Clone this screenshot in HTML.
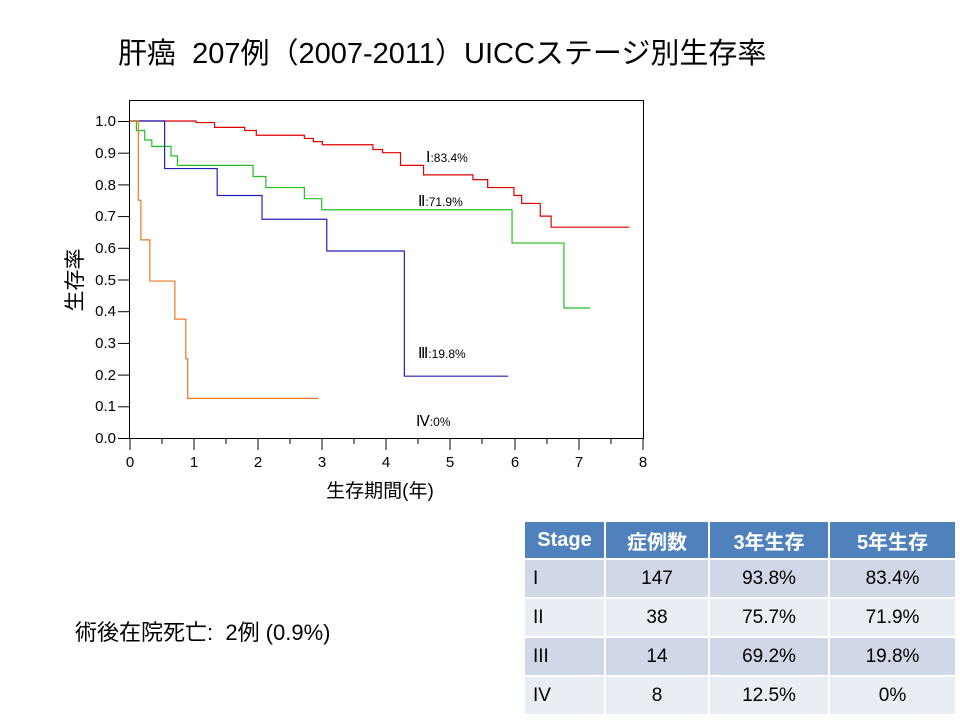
<!DOCTYPE html>
<html><head><meta charset="utf-8"><style>
body{margin:0;width:960px;height:720px;background:#fff;position:relative;overflow:hidden;font-family:"Liberation Sans","Noto Sans CJK JP",sans-serif}
.t{position:absolute;white-space:nowrap}
table{position:absolute;left:523px;top:520px;border-collapse:collapse;font-size:19px;table-layout:fixed;width:432px}
td{border:2px solid #fff;height:37px;text-align:center;padding:0;color:#000}
th{border:2px solid #fff;height:36px;background:#4f81bd;color:#fff;font-size:20px;font-weight:bold;padding:0}
tr.a td{background:#d0d8e8} tr.b td{background:#e9edf4}
td.l{text-align:left;padding-left:8px}
</style></head><body>
<div class="t" style="left:118px;top:30px;font-size:29px">肝癌&nbsp;&nbsp;207例（2007-2011）UICCステージ別生存率</div>
<svg width="960" height="720" style="position:absolute;left:0;top:0" font-family="Liberation Sans, Noto Sans CJK JP, sans-serif">
<rect x="129.5" y="100.5" width="514" height="338" fill="none" stroke="#000" stroke-width="1"/>
<g stroke="#000" stroke-width="1">
<line x1="118" y1="438.5" x2="130" y2="438.5"/><line x1="118" y1="406.8" x2="130" y2="406.8"/><line x1="118" y1="375.1" x2="130" y2="375.1"/><line x1="118" y1="343.4" x2="130" y2="343.4"/><line x1="118" y1="311.7" x2="130" y2="311.7"/><line x1="118" y1="280" x2="130" y2="280"/><line x1="118" y1="248.3" x2="130" y2="248.3"/><line x1="118" y1="216.6" x2="130" y2="216.6"/><line x1="118" y1="184.9" x2="130" y2="184.9"/><line x1="118" y1="153.2" x2="130" y2="153.2"/><line x1="118" y1="121.5" x2="130" y2="121.5"/>
<line x1="130" y1="438" x2="130" y2="450"/><line x1="194" y1="438" x2="194" y2="450"/><line x1="258" y1="438" x2="258" y2="450"/><line x1="322" y1="438" x2="322" y2="450"/><line x1="386" y1="438" x2="386" y2="450"/><line x1="450" y1="438" x2="450" y2="450"/><line x1="515" y1="438" x2="515" y2="450"/><line x1="579" y1="438" x2="579" y2="450"/><line x1="643" y1="438" x2="643" y2="450"/>
<line x1="162" y1="438" x2="162" y2="444"/><line x1="226" y1="438" x2="226" y2="444"/><line x1="290" y1="438" x2="290" y2="444"/><line x1="354" y1="438" x2="354" y2="444"/><line x1="418" y1="438" x2="418" y2="444"/><line x1="482" y1="438" x2="482" y2="444"/><line x1="547" y1="438" x2="547" y2="444"/><line x1="611" y1="438" x2="611" y2="444"/>
</g>
<g font-size="15" text-anchor="end">
<text x="116" y="443">0.0</text><text x="116" y="411">0.1</text><text x="116" y="380">0.2</text><text x="116" y="348">0.3</text><text x="116" y="316">0.4</text><text x="116" y="285">0.5</text><text x="116" y="253">0.6</text><text x="116" y="221">0.7</text><text x="116" y="190">0.8</text><text x="116" y="158">0.9</text><text x="116" y="126">1.0</text>
</g>
<g font-size="15" text-anchor="middle">
<text x="130" y="467">0</text><text x="194" y="467">1</text><text x="258" y="467">2</text><text x="322" y="467">3</text><text x="386" y="467">4</text><text x="450" y="467">5</text><text x="515" y="467">6</text><text x="579" y="467">7</text><text x="643" y="467">8</text>
</g>
<text x="380" y="497" font-size="19" text-anchor="middle">生存期間(年)</text>
<text transform="translate(82,280) rotate(-90)" font-size="21" text-anchor="middle">生存率</text>
<g fill="none" stroke-width="1.2" transform="translate(130,438) scale(64.1,-317)">
<path vector-effect="non-scaling-stroke" stroke="#e00000" d="M0,1H1.03V0.995H1.32V0.98H1.79V0.97H1.97V0.955H2.72V0.945H2.86V0.935H3V0.925H3.79V0.91H3.94V0.9H4.22V0.86H4.58V0.83H5.35V0.815H5.58V0.79H5.99V0.765H6.11V0.74H6.4V0.7H6.57V0.665H7.79"/>
<path vector-effect="non-scaling-stroke" stroke="#22c022" d="M0,1H0.1V0.97H0.23V0.94H0.34V0.92H0.64V0.89H0.74V0.86H1.92V0.825H2.12V0.79H2.72V0.755H2.99V0.72H5.96V0.615H6.77V0.41H7.18"/>
<path vector-effect="non-scaling-stroke" stroke="#2020c0" d="M0,1H0.54V0.85H1.36V0.765H2.06V0.69H3.07V0.59H4.28V0.195H5.9"/>
<path vector-effect="non-scaling-stroke" stroke="#e87a20" d="M0,1H0.13V0.75H0.17V0.625H0.31V0.495H0.7V0.375H0.87V0.25H0.9V0.125H2.94"/>
</g>
<g font-size="12">
<text x="426" y="162"><tspan font-size="15" font-family="Liberation Serif, serif">Ⅰ</tspan>:83.4%</text>
<text x="418" y="206"><tspan font-size="15" font-family="Liberation Serif, serif">Ⅱ</tspan>:71.9%</text>
<text x="418" y="358"><tspan font-size="15" font-family="Liberation Serif, serif">Ⅲ</tspan>:19.8%</text>
<text x="416" y="426"><tspan font-size="15" font-family="Liberation Serif, serif">Ⅳ</tspan>:0%</text>
</g>
</svg>
<div class="t" style="left:75px;top:615px;font-size:22px">術後在院死亡:&nbsp;&nbsp;2例 (0.9%)</div>
<table>
<colgroup><col style="width:81px"><col style="width:104px"><col style="width:120px"><col style="width:127px"></colgroup>
<tr><th>Stage</th><th>症例数</th><th>3年生存</th><th>5年生存</th></tr>
<tr class="a"><td class="l">I</td><td>147</td><td>93.8%</td><td>83.4%</td></tr>
<tr class="b"><td class="l">II</td><td>38</td><td>75.7%</td><td>71.9%</td></tr>
<tr class="a"><td class="l">III</td><td>14</td><td>69.2%</td><td>19.8%</td></tr>
<tr class="b"><td class="l">IV</td><td>8</td><td>12.5%</td><td>0%</td></tr>
</table>
</body></html>
